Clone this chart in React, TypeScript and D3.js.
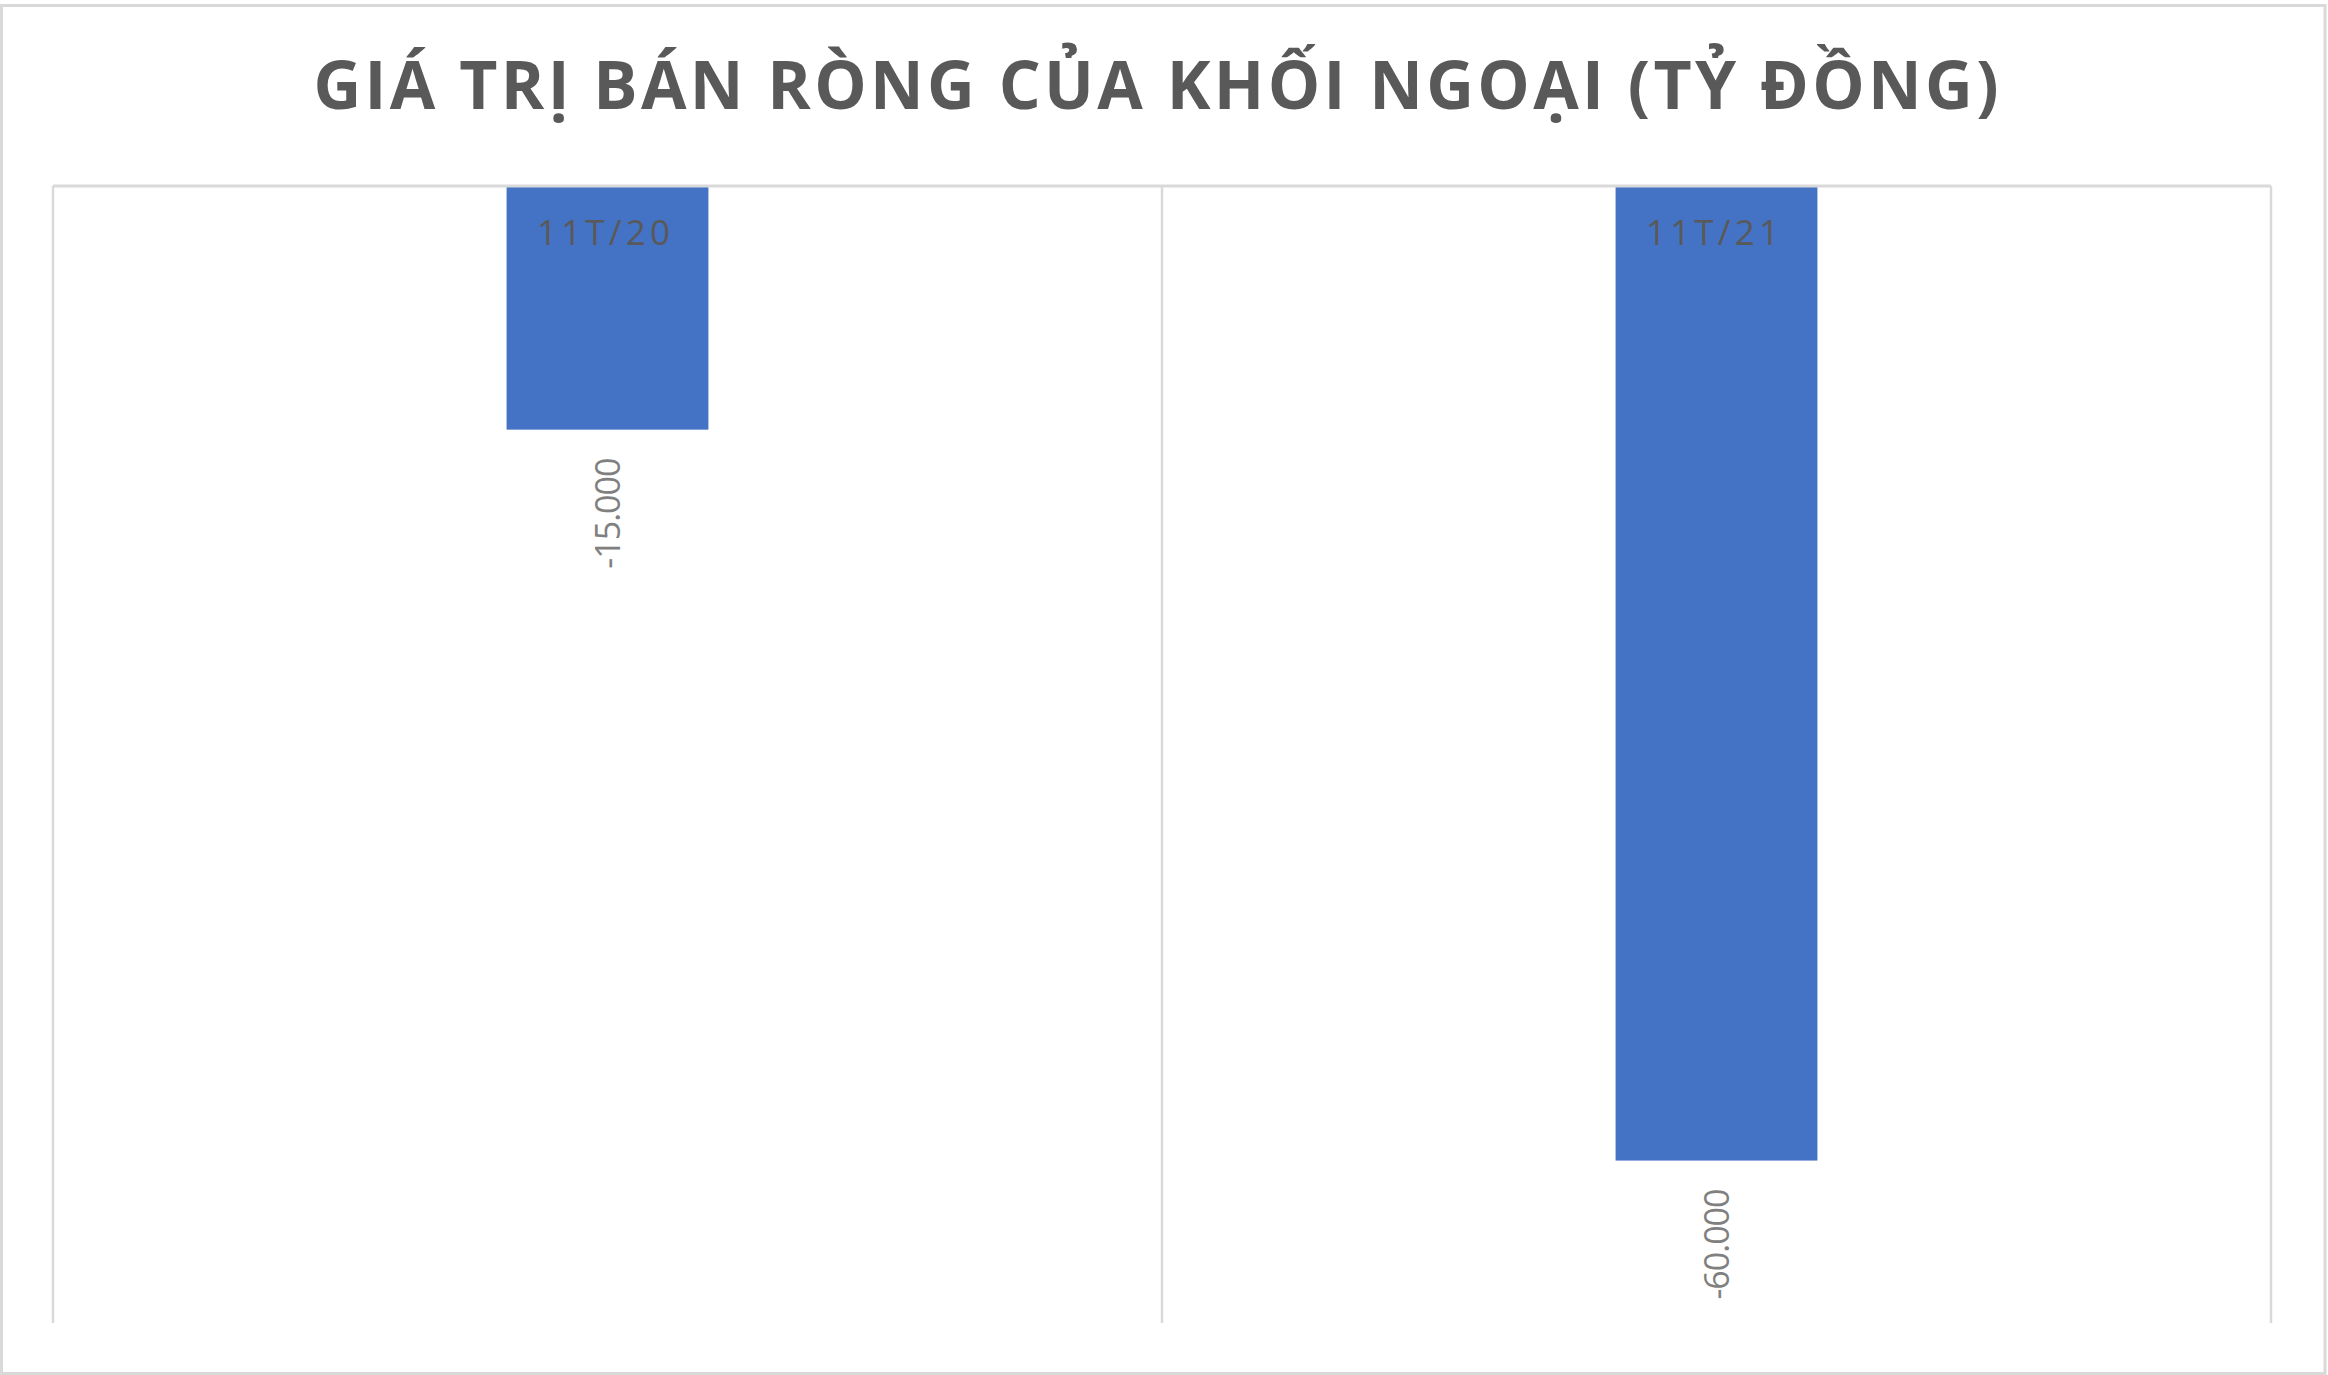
import React from 'react';
import * as d3 from 'd3';

// Chart data
const categories = ['11T/20', '11T/21'];
const netSell = [-15000, -60000];
const valueLabels = ['-15.000', '-60.000'];
const title = 'GIÁ TRỊ BÁN RÒNG CỦA KHỐI NGOẠI (TỶ ĐỒNG)';

const W = 2328;
const H = 1375;
const plot = { left: 53, right: 2271, top: 186, bottom: 1323 };

const GRID = '#d9d9d9';
const BAR = '#4472C4';

export default function App() {
  const x = d3.scaleBand<string>()
    .domain(categories)
    .range([plot.left, plot.right])
    .padding(0);

  // bars take ~18% of each category slot
  const barW = x.bandwidth() * 0.182;

  const y = d3.scaleLinear()
    .domain([-70000, 0])
    .range([plot.bottom, plot.top]);

  const boundaries = [...categories.map(c => x(c)!), plot.right];

  return (
    <div style={{ position: 'fixed', left: 0, top: 0, width: W, height: H, background: '#fff' }}>
      <svg width={W} height={H} style={{ display: 'block' }}>
        <rect x={1.5} y={5.5} width={W - 4.5} height={H - 7} fill="#fff" stroke={GRID} strokeWidth={3} />

        <text
          x={1156}
          y={109}
          textAnchor="middle"
          fontFamily="'Open Sans', sans-serif"
          fontWeight={700}
          fontSize={66}
          fill="#595959"
          textLength={1685}
          lengthAdjust="spacing"
        >
          {title}
        </text>

        {/* vertical gridlines at category boundaries */}
        {boundaries.map((bx, i) => (
          <line key={i} x1={bx} x2={bx} y1={plot.top} y2={plot.bottom} stroke={GRID} strokeWidth={2.5} />
        ))}

        {categories.map((c, i) => {
          const cx = x(c)! + x.bandwidth() / 2;
          const v = netSell[i];
          const y0 = y(0);
          const y1 = y(v);
          return (
            <g key={c}>
              <rect x={cx - barW / 2} y={y0} width={barW} height={y1 - y0} fill={BAR} />
              <text
                x={cx - 4}
                y={y0 + 59}
                textAnchor="middle"
                fontFamily="'Open Sans', sans-serif"
                fontSize={35}
                fill="#595959"
                textLength={133}
                lengthAdjust="spacing"
              >
                {c}
              </text>
              <text
                transform={`translate(${cx + 12.5},${y1 + 28}) rotate(-90)`}
                textAnchor="end"
                fontFamily="'Open Sans', sans-serif"
                fontSize={34}
                fill="#808080"
                textLength={111}
                lengthAdjust="spacing"
              >
                {valueLabels[i]}
              </text>
            </g>
          );
        })}

        {/* category axis line on top (zero) */}
        <line x1={plot.left} x2={plot.right} y1={y(0)} y2={y(0)} stroke={GRID} strokeWidth={3} />
      </svg>
    </div>
  );
}
